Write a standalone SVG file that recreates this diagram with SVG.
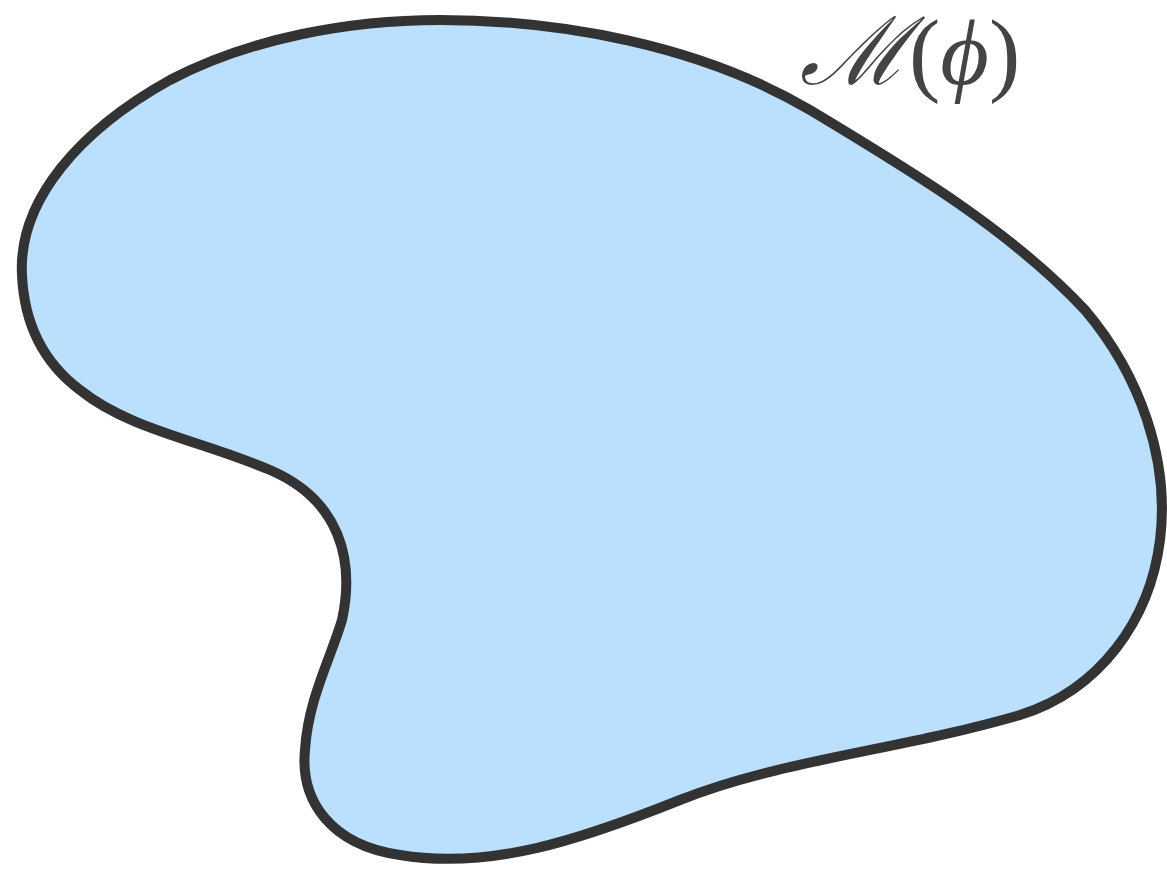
<svg xmlns="http://www.w3.org/2000/svg" width="1167" height="874" viewBox="0 0 1167 874">
<style>
.blob{fill:#bae0fd;stroke:#333333;stroke-width:10;stroke-linejoin:round}
.lbl{font-family:"Liberation Serif","DejaVu Serif",serif;font-size:94px;fill:#444444}
</style>
<rect width="1167" height="874" fill="#ffffff"/>
<g id="manifold">
<path class="blob" d="M 22 275 C 18 200, 80 130, 170 80 C 250 38, 350 20, 440 20 C 560 20, 700 45, 810 110 C 910 170, 1010 230, 1085 310 C 1140 375, 1170 460, 1160 540 C 1150 620, 1100 690, 1020 715 C 900 750, 780 760, 680 800 C 580 840, 490 870, 400 855 C 330 845, 300 800, 305 750 C 308 700, 330 660, 342 620 C 355 560, 340 500, 270 470 C 200 440, 130 430, 80 390 C 40 360, 24 320, 22 275 Z"/>
</g>
<g id="label">
<text class="lbl" x="800" y="84"><tspan font-style="italic">ℳ</tspan>(<tspan font-style="italic">ϕ</tspan>)</text>
</g>
</svg>
